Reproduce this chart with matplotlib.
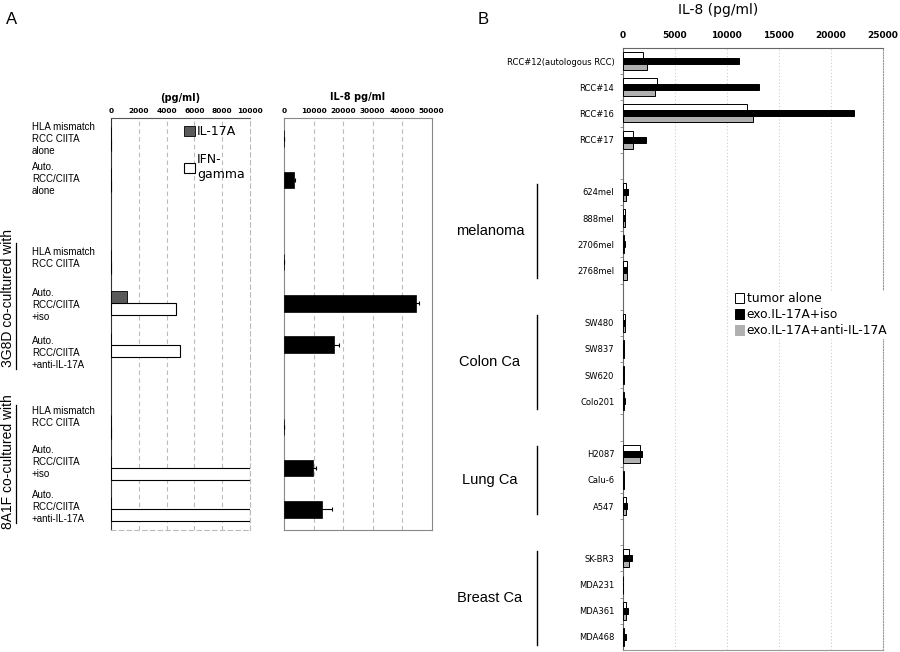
import matplotlib
matplotlib.use("Agg")
import matplotlib.pyplot as plt
from matplotlib.patches import Patch

# ---- panel A data ----
a_labels = [
    "HLA mismatch\nRCC CIITA\nalone",
    "Auto.\nRCC/CIITA\nalone",
    "HLA mismatch\nRCC CIITA",
    "Auto.\nRCC/CIITA\n+iso",
    "Auto.\nRCC/CIITA\n+anti-IL-17A",
    "HLA mismatch\nRCC CIITA",
    "Auto.\nRCC/CIITA\n+iso",
    "Auto.\nRCC/CIITA\n+anti-IL-17A",
]
a_il17a = [0, 0, 0, 1120, 0, 0, 0, 0]
a_ifng = [0, 0, 0, 4680, 4960, 0, 10000, 10000]
a_il8 = [100, 3300, 100, 44700, 16900, 100, 9800, 12750]
a_il8_err = [0, 300, 0, 1000, 1700, 0, 1100, 3400]
a_ticks_cyt = [0, 2000, 4000, 6000, 8000, 10000]
a_ticks_il8 = [0, 10000, 20000, 30000, 40000, 50000]

# ---- panel B data ----
b_groups = ["RCC", "melanoma", "Colon Ca", "Lung Ca", "Breast Ca"]
b_lines = [
    ["RCC#12(autologous RCC)", "RCC#14", "RCC#16", "RCC#17"],
    ["624mel", "888mel", "2706mel", "2768mel"],
    ["SW480", "SW837", "SW620", "Colo201"],
    ["H2087", "Calu-6", "A547"],
    ["SK-BR3", "MDA231", "MDA361", "MDA468"],
]
b_alone = [1920, 3320, 11920, 960,
           300, 220, 150, 380,
           200, 100, 100, 150,
           1700, 150, 320,
           640, 30, 320, 130]
b_iso = [11160, 13080, 22190, 2200,
         550, 250, 190, 450,
         220, 100, 120, 180,
         1850, 170, 420,
         900, 30, 480, 290]
b_anti = [2370, 3130, 12530, 960,
          300, 220, 150, 380,
          200, 100, 100, 150,
          1700, 150, 320,
          640, 30, 320, 130]
b_ticks = [0, 5000, 10000, 15000, 20000, 25000]

ARIAL = ["Liberation Sans", "DejaVu Sans"]
GRID = "#bbbbbb"

fig = plt.figure(figsize=(9, 6.52), dpi=100)


def px(x0, y0, x1, y1):
    """figure pixel box -> fig fraction rect"""
    W, H = 900, 652
    return [x0 / W, 1 - y1 / H, (x1 - x0) / W, (y1 - y0) / H]


# slots: 10 per panel-A axis, rows placed with gaps
a_slots = [0, 1, 3, 4, 5, 7, 8, 9]
a_label_y = [0.0, 0.98, 2.9, 4.05, 5.2, 6.75, 7.86, 8.94]

ax1 = fig.add_axes(px(111, 118, 250, 530))
ax2 = fig.add_axes(px(284, 118, 431.7, 530))

bh = 0.29
ax1.barh([s - bh / 2 for s in a_slots], a_il17a, height=bh, color="#5a5a5a",
         edgecolor="black", lw=0.6, label="IL-17A", zorder=3)
ax1.barh([s + bh / 2 for s in a_slots], a_ifng, height=bh, color="white",
         edgecolor="black", lw=0.8, label="IFN-\ngamma", zorder=3)
ax2.barh(a_slots, a_il8, height=0.4, color="black", edgecolor="black", lw=0.5,
         xerr=a_il8_err, error_kw=dict(ecolor="black", lw=0.8, capsize=1.5, capthick=0.8),
         zorder=3)

for ax, ticks in ((ax1, a_ticks_cyt), (ax2, a_ticks_il8)):
    ax.set_ylim(9.5, -0.5)
    ax.set_xlim(ticks[0], ticks[-1])
    ax.set_xticks(ticks)
    ax.xaxis.tick_top()
    ax.tick_params(axis="x", length=0, labelsize=5.3, pad=3)
    for t in ax.get_xticklabels():
        t.set_fontweight("bold")
    ax.set_yticks([])
    for x in ticks[1:-1]:
        ax.axvline(x, color=GRID, ls=(0, (4, 3)), lw=0.8, zorder=1)

for side in ("right", "bottom"):
    ax1.spines[side].set_color(GRID)
    ax1.spines[side].set_linestyle((0, (4, 3)))
ax1.spines["left"].set_color("#333333")
ax1.spines["top"].set_color("#555555")
for sp in ax2.spines.values():
    sp.set_color("#888888")

ax1.set_title("(pg/ml)", fontsize=7, fontweight="bold", pad=12)
ax2.set_title("IL-8 pg/ml", fontsize=7, fontweight="bold", pad=13)

ax1.legend(loc="upper left", bbox_to_anchor=(0.49, 0.995), frameon=False,
           prop={"family": "DejaVu Sans", "size": 9}, handlelength=0.85,
           handleheight=0.9, handletextpad=0.2, labelspacing=1.2,
           borderaxespad=0)

for y, lab in zip(a_label_y, a_labels):
    ax1.text(-0.57, y, lab, transform=ax1.get_yaxis_transform(), ha="left",
             va="center", fontsize=7, family=ARIAL, linespacing=1.25)

# group brackets for panel A
for txt, y0, y1, yc in (("3G8D co-cultured with", 243, 369, 298),
                        ("8A1F co-cultured with", 405, 523, 462)):
    fig.add_artist(plt.Line2D([16 / 900] * 2, [1 - y0 / 652, 1 - y1 / 652],
                              color="black", lw=0.9))
    fig.text(8.5 / 900, 1 - yc / 652, txt, rotation=90, ha="center", va="center",
             fontsize=10, family=ARIAL)

fig.text(12 / 900, 1 - 19 / 652, "A", ha="center", va="center", fontsize=12,
         family=ARIAL)
fig.text(483 / 900, 1 - 19 / 652, "B", ha="center", va="center", fontsize=12,
         family=ARIAL)

# ---- panel B ----
axb = fig.add_axes(px(622.7, 48, 883, 650))
pos, names, brackets = [], [], []
slot = 0
for grp in b_lines:
    start = slot
    for name in grp:
        pos.append(slot)
        names.append(name)
        slot += 1
    brackets.append((start, slot - 1))
    slot += 1
n_slots = slot - 1

w = 0.23
axb.barh([p - w for p in pos], b_alone, height=w, color="white",
         edgecolor="black", lw=0.7, zorder=3)
axb.barh(pos, b_iso, height=w, color="black", edgecolor="black", lw=0.7,
         zorder=3)
axb.barh([p + w for p in pos], b_anti, height=w, color="#b0b0b0",
         edgecolor="black", lw=0.7, zorder=3)

axb.set_ylim(n_slots - 0.5, -0.5)
axb.set_xlim(b_ticks[0], b_ticks[-1])
axb.set_xticks(b_ticks)
axb.xaxis.tick_top()
axb.tick_params(axis="x", length=0, labelsize=6.5, pad=6)
for t in axb.get_xticklabels():
    t.set_fontweight("bold")
axb.set_yticks(pos)
axb.set_yticklabels(names, fontsize=6)
axb.tick_params(axis="y", length=0, pad=6)
axb.set_yticks([p + 0.5 for p in range(n_slots - 1)], minor=True)
axb.tick_params(axis="y", which="minor", length=2.5, color="#888888")
for x in b_ticks[1:-1]:
    axb.axvline(x, color="#cccccc", ls=(0, (1, 2)), lw=0.8, zorder=1)
axb.spines["right"].set_color("#999999")
axb.spines["right"].set_linestyle((0, (1, 1.5)))
axb.spines["left"].set_color("#666666")
axb.spines["top"].set_color("#666666")
axb.spines["bottom"].set_color("#999999")

fig.text(718 / 900, 1 - 10 / 652, "IL-8 (pg/ml)", ha="center", va="center",
         fontsize=10, family="DejaVu Sans")

for gname, (s0, s1) in zip(b_groups[1:], brackets[1:]):
    y0 = axb.transData.transform((0, s0 - 0.3))[1]
    y1 = axb.transData.transform((0, s1 + 0.3))[1]
    fig.add_artist(plt.Line2D([537 / 900] * 2,
                              [y0 / fig.bbox.height, y1 / fig.bbox.height],
                              color="black", lw=1.0))
    yc = axb.transData.transform((0, (s0 + s1) / 2))[1] / fig.bbox.height
    fig.text(490 / 900, yc, gname, ha="center", va="center", fontsize=10.5,
             family=ARIAL)

handles = [Patch(facecolor="white", edgecolor="black", lw=0.7),
           Patch(facecolor="black", edgecolor="black", lw=0.7),
           Patch(facecolor="#b0b0b0", edgecolor="#b0b0b0", lw=0.7)]
axb.legend(handles, ["tumor alone", "exo.IL-17A+iso", "exo.IL-17A+anti-IL-17A"],
           loc="upper left", bbox_to_anchor=(0.425, 0.597), frameon=True,
           facecolor="white", edgecolor="white", framealpha=1,
           prop={"family": "DejaVu Sans", "size": 8.8}, handlelength=0.8,
           handleheight=0.9, handletextpad=0.2, labelspacing=0.25,
           borderpad=0.1, borderaxespad=0)

fig.savefig("out.png", dpi=100)
